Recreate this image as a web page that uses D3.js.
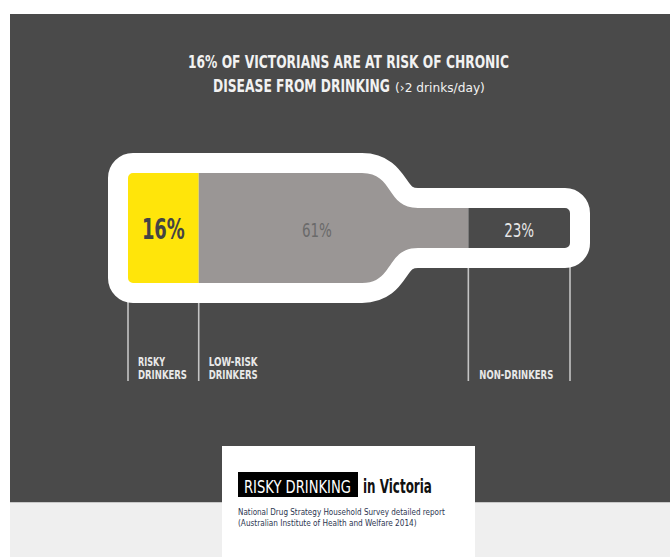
<!DOCTYPE html>
<html>
<head>
<meta charset="utf-8">
<script src="https://cdn.jsdelivr.net/npm/d3@7"></script>
<style>
  html, body { margin: 0; padding: 0; background: #ffffff; }
  svg { display: block; }
  text { font-family: "DejaVu Sans Condensed", "DejaVu Sans", sans-serif; font-stretch: condensed; }
</style>
</head>
<body>
<svg id="chart" width="670" height="557"></svg>
<script>
// Share of Victorians by drinking category (percent)
const categories = ["RISKY DRINKERS", "LOW-RISK DRINKERS", "NON-DRINKERS"];
const labelLines = [["RISKY", "DRINKERS"], ["LOW-RISK", "DRINKERS"], ["NON-DRINKERS"]];
const shares = [16, 61, 23];
const fills = ["#ffe50a", "#9a9695", "#4a4a4a"];
const valueColors = ["#444444", "#6a6a6a", "#e6e6e6"];

const titleLine1 = "16% OF VICTORIANS ARE AT RISK OF CHRONIC";
const titleLine2 = "DISEASE FROM DRINKING";
const titleNote = "(›2 drinks/day)";
const cardTag = "RISKY DRINKING";
const cardTitle = "in Victoria";
const sourceLines = [
  "National Drug Strategy Household Survey detailed report",
  "(Australian Institute of Health and Welfare 2014)"
];

const svg = d3.select("#chart");
const W = 670, H = 557;

// narrow a text horizontally to a set width (condensed display face)
function fit(sel, w) {
  const nat = sel.node().getComputedTextLength();
  const x0 = +sel.attr("x"), y0 = +sel.attr("y");
  return sel.attr("x", 0).attr("y", 0)
    .attr("transform", `translate(${x0},${y0}) scale(${w / nat},1)`);
}

// panels
svg.append("rect").attr("x", 10).attr("y", 502).attr("width", W - 10).attr("height", H - 502).attr("fill", "#efefef");
svg.append("rect").attr("x", 10).attr("y", 14).attr("width", W - 10).attr("height", 488).attr("fill", "#4a4a4a");
svg.append("line").attr("x1", 10).attr("x2", W).attr("y1", 502.5).attr("y2", 502.5).attr("stroke", "#c8c8c8").attr("stroke-width", 1);

// title
const title = svg.append("g").attr("fill", "#f2f2f2");
fit(title.append("text").attr("x", 188).attr("y", 68).attr("font-size", 18).attr("font-weight", 700).text(titleLine1), 321);
fit(title.append("text").attr("x", 213).attr("y", 92).attr("font-size", 18).attr("font-weight", 700).text(titleLine2), 177);
fit(title.append("text").attr("x", 395).attr("y", 92).attr("font-size", 12.5).attr("font-weight", 400).text(titleNote), 90);

// bottle geometry (inner liquid outline)
const left = 128, right = 570;
const bodyTop = 173, bodyBot = 283, neckTop = 208, neckBot = 248;
const shoulderA = 362, shoulderB = 418, r = 5;

const x = d3.scaleLinear().domain([0, d3.sum(shares)]).range([left, right]);
const starts = Array.from(d3.cumsum([0].concat(shares))).slice(0, shares.length);

const p = d3.path();
p.moveTo(left + r, bodyTop);
p.lineTo(shoulderA, bodyTop);
p.bezierCurveTo(shoulderA + 32, bodyTop, shoulderB - 32, neckTop, shoulderB, neckTop);
p.lineTo(right - r, neckTop);
p.arcTo(right, neckTop, right, neckTop + r, r);
p.lineTo(right, neckBot - r);
p.arcTo(right, neckBot, right - r, neckBot, r);
p.lineTo(shoulderB, neckBot);
p.bezierCurveTo(shoulderB - 32, neckBot, shoulderA + 32, bodyBot, shoulderA, bodyBot);
p.lineTo(left + r, bodyBot);
p.arcTo(left, bodyBot, left, bodyBot - r, r);
p.lineTo(left, bodyTop + r);
p.arcTo(left, bodyTop, left + r, bodyTop, r);
p.closePath();
const bottlePath = p.toString();

svg.append("defs").append("clipPath").attr("id", "liquid")
  .append("path").attr("d", bottlePath);

// guide lines at each segment boundary
const edges = starts.concat([d3.sum(shares)]);
const guideTop = [bodyBot, bodyBot, neckBot, neckBot];
svg.append("g").selectAll("line").data(edges).join("line")
  .attr("x1", d => x(d)).attr("x2", d => x(d))
  .attr("y1", (d, i) => guideTop[i] + 10).attr("y2", 381)
  .attr("stroke", "#c4c4c4").attr("stroke-width", 1.6);

// glass
svg.append("path").attr("d", bottlePath)
  .attr("fill", "#ffffff").attr("stroke", "#ffffff")
  .attr("stroke-width", 40).attr("stroke-linejoin", "round");

// liquid segments
svg.append("g").attr("clip-path", "url(#liquid)")
  .selectAll("rect").data(shares).join("rect")
  .attr("x", (d, i) => x(starts[i]))
  .attr("width", d => x(d) - x(0))
  .attr("y", bodyTop).attr("height", bodyBot - bodyTop)
  .attr("fill", (d, i) => fills[i]);

// value labels (centred on the visible part of each segment)
const valueSizes = [29, 20, 20];
const valueWeights = [700, 400, 400];
const valueWidths = [43, 30, 30];
const neckEnd = 435;
const valueG = svg.append("g").attr("text-anchor", "middle");
shares.forEach((d, i) => {
  const a = x(starts[i]), b = x(starts[i] + d);
  const bb = (a < neckEnd && b > neckEnd + 20) ? neckEnd : b;
  fit(valueG.append("text")
    .attr("x", (a + bb) / 2)
    .attr("y", i === 0 ? 239 : 237)
    .attr("font-size", valueSizes[i])
    .attr("font-weight", valueWeights[i])
    .attr("fill", valueColors[i])
    .text(d + "%"), valueWidths[i]);
});

// category labels
const labelWidths = [[27, 49], [49, 49], [74]];
const labelG = svg.append("g").attr("fill", "#e8e8e8").attr("font-size", 12).attr("font-weight", 700);
labelLines.forEach((lines, i) => {
  const lx = x(starts[i]) + (i === 2 ? 11 : 10);
  const baseY = 379 - (lines.length - 1) * 13;
  lines.forEach((s, j) => {
    fit(labelG.append("text").attr("x", lx).attr("y", baseY + j * 13).text(s), labelWidths[i][j]);
  });
});

// source card
const card = svg.append("g");
card.append("rect").attr("x", 222).attr("y", 446).attr("width", 253).attr("height", H - 446).attr("fill", "#ffffff");
card.append("rect").attr("x", 238).attr("y", 472).attr("width", 120).attr("height", 25).attr("fill", "#000000");
fit(card.append("text").attr("x", 244).attr("y", 493).attr("font-size", 18).attr("font-weight", 400).attr("fill", "#ffffff").text(cardTag), 107);
fit(card.append("text").attr("x", 363).attr("y", 493).attr("font-size", 19).attr("font-weight", 700).attr("fill", "#111111").text(cardTitle), 69);
const srcWidths = [207, 179];
sourceLines.forEach((s, i) => {
  fit(card.append("text").attr("x", 238).attr("y", 515 + i * 11)
    .attr("font-size", 9).attr("fill", "#2c3550").text(s), srcWidths[i]);
});
</script>
</body>
</html>
